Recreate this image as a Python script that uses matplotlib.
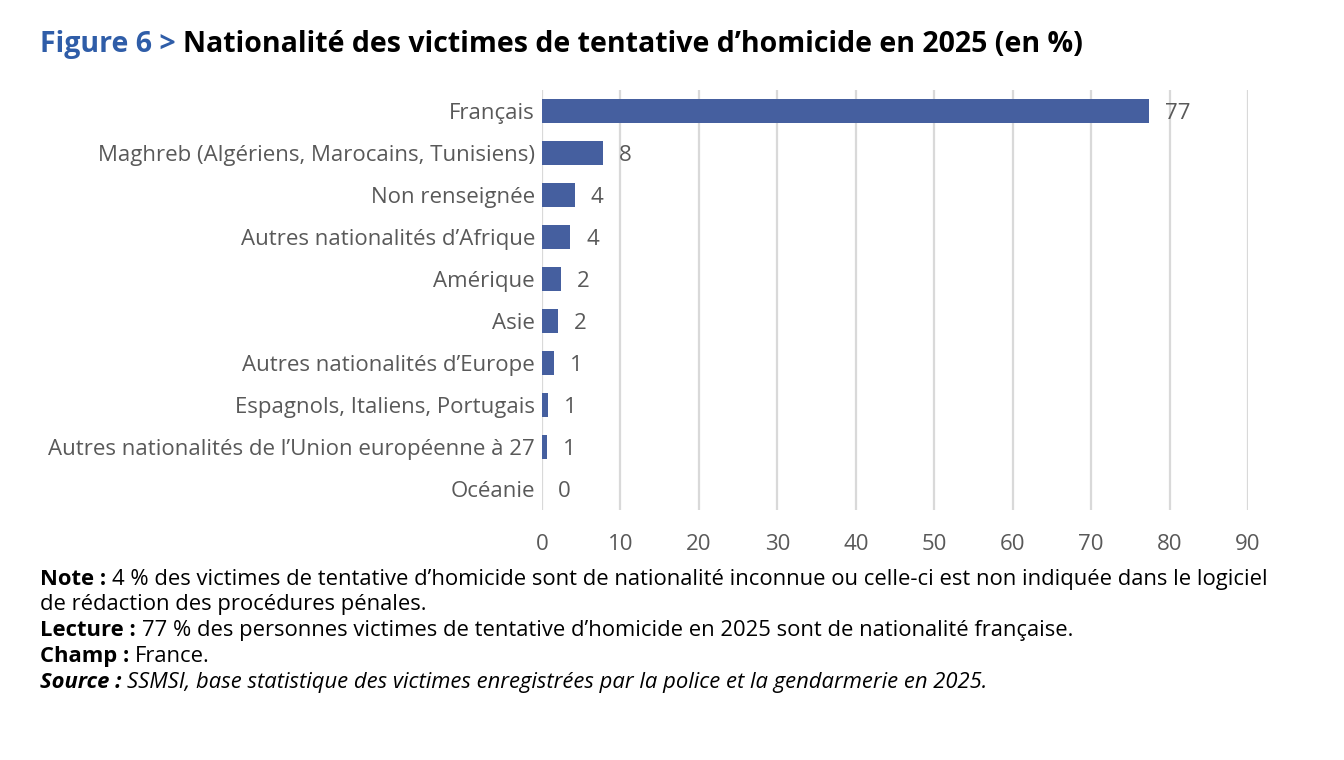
import matplotlib
matplotlib.use('Agg')
import matplotlib.pyplot as plt

plt.rcParams['font.family'] = ['Open Sans', 'DejaVu Sans']

categories = ['Français', 'Maghreb (Algériens, Marocains, Tunisiens)', 'Non renseignée',
              "Autres nationalités d\u2019Afrique", 'Amérique', 'Asie',
              "Autres nationalités d\u2019Europe", 'Espagnols, Italiens, Portugais',
              "Autres nationalités de l\u2019Union européenne à 27", 'Océanie']
values = [77.4, 7.8, 4.2, 3.6, 2.4, 2.0, 1.5, 0.8, 0.6, 0.0]
labels = ['77', '8', '4', '4', '2', '2', '1', '1', '1', '0']
xticks = [0, 10, 20, 30, 40, 50, 60, 70, 80, 90]

grey = '#595959'
bar_col = '#455f9f'

fig = plt.figure(figsize=(13.44, 7.6), dpi=100)
ax = fig.add_axes([542/1344, 1-510/760, (1248-542)/1344, 420/760])

y = list(range(len(categories)))
ax.barh(y, values, height=0.58, color=bar_col, linewidth=0, zorder=3)
for yi, v, lab in zip(y, values, labels):
    ax.annotate(lab, (v, yi), xytext=(16, 0), textcoords='offset pixels',
                va='center_baseline', ha='left', fontsize=16, color=grey)

ax.set_xlim(0, 90)
ax.set_ylim(len(categories)-0.5, -0.5)
ax.set_xticks(xticks)
ax.set_yticks(y)
ax.set_yticklabels(categories)
ax.tick_params(axis='both', length=0, labelsize=16, labelcolor=grey)
ax.tick_params(axis='y', pad=5)
ax.tick_params(axis='x', pad=17)
ax.grid(axis='x', color='#d9d9d9', linewidth=1.6, zorder=0)
for s in ax.spines.values():
    s.set_visible(False)

# title
t1 = fig.text(40/1344, 1-52/760, 'Figure 6 > ', fontsize=20.5, fontweight='bold', color='#2f5da8')
fig.canvas.draw()
r = fig.canvas.get_renderer()
bb = t1.get_window_extent(r)
fig.text(bb.x1/1344, 1-52/760, "Nationalité des victimes de tentative d\u2019homicide en 2025 (en %)",
         fontsize=20.5, fontweight='bold', color='black')

# notes
fs = 15.8
def line(y_px, head, rest, italic=False):
    st = 'italic' if italic else 'normal'
    a = fig.text(40/1344, 1-y_px/760, head, fontsize=fs, fontweight='bold', style=st, color='black', va='baseline')
    fig.canvas.draw()
    b = a.get_window_extent(fig.canvas.get_renderer())
    fig.text(b.x1/1344, 1-y_px/760, rest, fontsize=fs, style=st, color='black', va='baseline')

line(585, 'Note : ', "4 % des victimes de tentative d\u2019homicide sont de nationalité inconnue ou celle-ci est non indiquée dans le logiciel")
fig.text(40/1344, 1-610/760, 'de rédaction des procédures pénales.', fontsize=fs, color='black', va='baseline')
line(636, 'Lecture : ', "77 % des personnes victimes de tentative d\u2019homicide en 2025 sont de nationalité française.")
line(662, 'Champ : ', 'France.')
line(688, 'Source : ', 'SSMSI, base statistique des victimes enregistrées par la police et la gendarmerie en 2025.', italic=True)

fig.savefig('out.png', dpi=100)
